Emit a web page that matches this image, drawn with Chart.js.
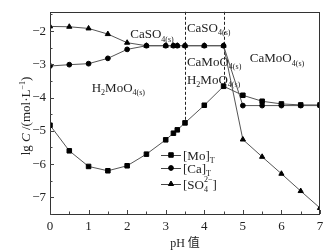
<!DOCTYPE html>
<html><head><meta charset="utf-8">
<script src="https://cdn.jsdelivr.net/npm/chart.js@4/dist/chart.umd.min.js"></script>
<style>html,body{margin:0;padding:0;background:#fff}canvas{display:block}</style>
</head><body>
<canvas id="c" width="333" height="251"></canvas>
<script>
// pH points and lg C values
const ph = [0, 0.5, 1, 1.5, 2, 2.5, 3, 3.2, 3.3, 3.5, 4, 4.5, 5, 5.5, 6, 6.5, 7];
const moT = [-4.83, -5.60, -6.07, -6.20, -6.05, -5.70, -5.27, -5.07, -4.97, -4.76, -4.23, -3.66, -3.93, -4.11, -4.19, -4.22, -4.22];
const caT = [-3.05, -3.01, -2.98, -2.82, -2.55, -2.44, -2.44, -2.44, -2.44, -2.44, -2.44, -2.44, -4.24, -4.24, -4.24, -4.24, -4.24];
const so4 = [-1.86, -1.87, -1.92, -2.09, -2.35, -2.44, -2.44, -2.44, -2.44, -2.44, -2.44, -2.44, -5.26, -5.78, -6.29, -6.81, -7.32];
const xTicks = [0, 1, 2, 3, 4, 5, 6, 7];
const yTicks = [-7, -6, -5, -4, -3, -2];
const boundaryPh = [3.5, 4.5];

const SERIF = '"Liberation Serif", "Times New Roman", serif';
const CJK = '"Liberation Serif", "Noto Sans CJK SC", serif';
const INK = '#222';

function pts(ys) { return ph.map((x, i) => ({ x: x, y: ys[i] })); }

// rich text: parts = [text, mode] mode: '' | 'sub' | 'sup' | 'i' | ['sub','sup'] pair
function richWidth(ctx, parts, fs) {
  let w = 0;
  parts.forEach(p => {
    if (p[1] === 'subsup') {
      ctx.font = (fs * 0.62) + 'px ' + SERIF;
      w += Math.max(ctx.measureText(p[0]).width, ctx.measureText(p[2]).width);
    } else {
      ctx.font = (p[1] === 'i' ? 'italic ' : '') + (p[1] === 'sub' || p[1] === 'sup' ? fs * 0.62 : fs) + 'px ' + SERIF;
      w += ctx.measureText(p[0]).width;
    }
  });
  return w;
}
function drawRich(ctx, x, y, parts, fs) {
  ctx.textBaseline = 'alphabetic';
  ctx.textAlign = 'left';
  parts.forEach(p => {
    if (p[1] === 'subsup') {
      ctx.font = (fs * 0.62) + 'px ' + SERIF;
      ctx.fillText(p[0], x, y + fs * 0.25);
      ctx.fillText(p[2], x, y - fs * 0.5);
      x += Math.max(ctx.measureText(p[0]).width, ctx.measureText(p[2]).width);
      return;
    }
    let size = fs, dy = 0;
    if (p[1] === 'sub') { size = fs * 0.62; dy = fs * 0.25; }
    if (p[1] === 'sup') { size = fs * 0.62; dy = -fs * 0.4; }
    ctx.font = (p[1] === 'i' ? 'italic ' : '') + size + 'px ' + SERIF;
    ctx.fillText(p[0], x, y + dy);
    x += ctx.measureText(p[0]).width;
  });
}

const phaseLabels = [
  { x: 2.08, y: -2.22, parts: [['CaSO', ''], ['4(s)', 'sub']] },
  { x: 3.55, y: -2.02, parts: [['CaSO', ''], ['4(s)', 'sub']] },
  { x: 3.55, y: -3.04, parts: [['CaMoO', ''], ['4(s)', 'sub']] },
  { x: 3.55, y: -3.58, parts: [['H', ''], ['2', 'sub'], ['MoO', ''], ['4(s)', 'sub']] },
  { x: 1.08, y: -3.82, parts: [['H', ''], ['2', 'sub'], ['MoO', ''], ['4(s)', 'sub']] },
  { x: 5.18, y: -2.94, parts: [['CaMoO', ''], ['4(s)', 'sub']] }
];

const legendItems = [
  { style: 'rect', r: 3.2, y: 155, parts: [['[Mo]', ''], ['T', 'sub']] },
  { style: 'circle', r: 2.4, y: 168, parts: [['[Ca]', ''], ['T', 'sub']] },
  { style: 'triangle', r: 3, y: 184, parts: [['[SO', ''], ['4', 'subsup', '2\u2212'], [']', '']] }
];

const decor = {
  id: 'decor',
  beforeDatasetsDraw(chart) {
    const ctx = chart.ctx, xs = chart.scales.x, ys = chart.scales.y, a = chart.chartArea;
    ctx.save();
    ctx.strokeStyle = INK;
    ctx.lineWidth = 1;
    ctx.setLineDash([3, 2]);
    boundaryPh.forEach(b => {
      const i = ph.indexOf(b);
      const px = Math.round(xs.getPixelForValue(b)) + 0.5;
      ctx.beginPath();
      ctx.moveTo(px, a.top);
      ctx.lineTo(px, ys.getPixelForValue(moT[i]));
      ctx.stroke();
    });
    ctx.setLineDash([]);
    ctx.fillStyle = INK;
    phaseLabels.forEach(l => {
      drawRich(ctx, xs.getPixelForValue(l.x), ys.getPixelForValue(l.y), l.parts, 13);
    });
    ctx.restore();
  },
  afterDraw(chart) {
    const ctx = chart.ctx, xs = chart.scales.x, ys = chart.scales.y, a = chart.chartArea;
    ctx.save();
    ctx.strokeStyle = '#333';
    ctx.lineWidth = 1;
    ctx.strokeRect(Math.round(a.left) + 0.5, Math.round(a.top) + 0.5, Math.round(a.right - a.left) - 1, Math.round(a.bottom - a.top));
    // inward ticks, majors and half-step minors
    ctx.strokeStyle = '#444';
    for (let v = 0; v <= 7.001; v += 0.5) {
      const px = Math.round(xs.getPixelForValue(v)) + 0.5;
      const len = Number.isInteger(v) ? 4 : 2.5;
      ctx.beginPath(); ctx.moveTo(px, a.bottom); ctx.lineTo(px, a.bottom - len); ctx.stroke();
    }
    for (let v = -7.5; v <= -1.5; v += 0.5) {
      const py = Math.round(ys.getPixelForValue(v)) + 0.5;
      const len = Number.isInteger(v) ? 4 : 2.5;
      ctx.beginPath(); ctx.moveTo(a.left, py); ctx.lineTo(a.left + len, py); ctx.stroke();
    }
    // y axis title
    ctx.fillStyle = INK;
    const tparts = [['lg ', ''], ['C', 'i'], [' /(mol\u00b7L', ''], ['\u22121', 'sup'], [')', '']];
    const tw = richWidth(ctx, tparts, 13);
    ctx.translate(26, 116);
    ctx.rotate(-Math.PI / 2);
    drawRich(ctx, -tw / 2, 4, tparts, 13);
    ctx.setTransform(1, 0, 0, 1, 0, 0);
    // legend
    legendItems.forEach(it => {
      ctx.strokeStyle = '#444';
      ctx.beginPath(); ctx.moveTo(161, it.y + 0.5); ctx.lineTo(181, it.y + 0.5); ctx.stroke();
      ctx.fillStyle = '#000'; ctx.strokeStyle = '#000';
      Chart.helpers.drawPoint(ctx, { pointStyle: it.style, radius: it.r, rotation: 0, borderWidth: 1 }, 171, it.y);
      ctx.fillStyle = INK;
      drawRich(ctx, 183, it.y + 4.5, it.parts, 13);
    });
    ctx.restore();
  }
};

function series(label, ys, style, r) {
  return {
    label: label, data: pts(ys), pointStyle: style, pointRadius: r, pointHoverRadius: r,
    borderColor: '#555', borderWidth: 1, backgroundColor: '#000', pointBorderColor: '#000',
    pointBackgroundColor: '#000', pointBorderWidth: 1, tension: 0, fill: false
  };
}

new Chart(document.getElementById('c'), {
  type: 'line',
  data: {
    datasets: [
      series('[Mo]T', moT, 'rect', 3.2),
      series('[Ca]T', caT, 'circle', 2.4),
      series('[SO4]', so4, 'triangle', 3)
    ]
  },
  options: {
    responsive: false,
    devicePixelRatio: 1,
    animation: false,
    layout: { padding: { top: 10, right: 13, left: 0, bottom: 0 } },
    plugins: { legend: { display: false }, tooltip: { enabled: false } },
    scales: {
      x: {
        type: 'linear', min: 0, max: 7,
        afterBuildTicks: s => { s.ticks = xTicks.map(v => ({ value: v })); },
        afterFit: s => { s.height = 37; },
        grid: { display: false, drawTicks: false },
        border: { display: false },
        ticks: { padding: 5, color: INK, font: { family: SERIF, size: 13 } },
        title: { display: true, text: 'pH 值', color: INK, padding: { top: 1, bottom: 0 }, font: { family: CJK, size: 12 } }
      },
      y: {
        type: 'linear', min: -7.5, max: -1.42,
        afterBuildTicks: s => { s.ticks = yTicks.map(v => ({ value: v })); },
        afterFit: s => { s.width = 50; },
        grid: { display: false, drawTicks: false },
        border: { display: false },
        ticks: { padding: 4, color: INK, font: { family: SERIF, size: 13 },
          callback: v => (v < 0 ? '\u2212' + Math.abs(v) : String(v)) }
      }
    }
  },
  plugins: [decor]
});
</script>
</body></html>
